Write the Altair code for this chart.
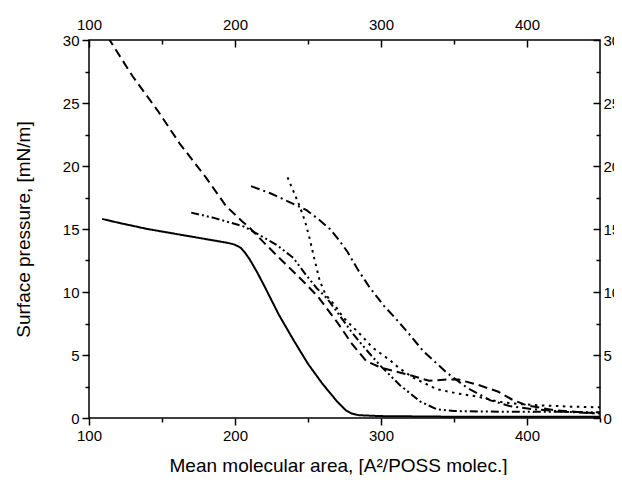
import altair as alt
import pandas as pd

# ---- data ----
solid_x = [109, 120, 140, 160, 180, 195, 200, 204, 207, 210, 215, 220, 230, 240, 250, 260, 270, 276, 280, 285, 300, 350, 400, 450]
solid_y = [15.8, 15.5, 15.0, 14.6, 14.2, 13.9, 13.75, 13.5, 13.1, 12.6, 11.6, 10.5, 8.2, 6.2, 4.3, 2.7, 1.3, 0.6, 0.35, 0.22, 0.15, 0.1, 0.1, 0.1]

dash_x = [113, 130, 147, 162, 180, 194, 205, 210, 220, 233, 248, 257, 270, 280, 290, 300, 310, 320, 333, 345, 353, 366, 380, 390, 400, 420, 450]
dash_y = [30.2, 27.1, 24.4, 21.8, 19.1, 16.8, 15.6, 15.1, 13.9, 12.4, 10.7, 9.6, 7.6, 5.9, 4.5, 4.0, 3.7, 3.4, 2.95, 3.05, 3.05, 2.65, 2.1, 1.45, 1.0, 0.6, 0.35]

dashdot_x = [211, 225, 238, 249, 258, 265, 270, 277, 284, 292, 302, 310, 319, 329, 345, 359, 375, 388, 404, 425, 450]
dashdot_y = [18.4, 17.8, 17.1, 16.5, 15.7, 15.0, 14.3, 13.2, 11.8, 10.4, 8.9, 7.9, 6.7, 5.3, 3.6, 2.4, 1.4, 0.95, 0.7, 0.5, 0.35]

dot_x = [236, 240, 244, 248, 251, 254, 258, 262, 268, 274, 280, 287, 294, 300, 306, 312, 322, 338, 352, 366, 380, 395, 410, 430, 450]
dot_y = [19.1, 18.0, 16.9, 15.6, 14.3, 12.8, 10.9, 9.8, 9.0, 8.0, 7.3, 6.5, 5.6, 5.1, 4.6, 4.0, 3.2, 2.3, 1.95, 1.7, 1.3, 1.1, 1.0, 0.9, 0.85]

dd_x = [170, 185, 197, 206, 217, 229, 240, 249, 256, 263, 270, 280, 290, 300, 313, 327, 338, 350, 380, 420, 450]
dd_y = [16.3, 15.9, 15.5, 15.2, 14.5, 13.7, 12.7, 11.3, 10.3, 9.5, 8.4, 6.8, 5.4, 4.1, 2.6, 1.3, 0.7, 0.55, 0.5, 0.5, 0.45]

series_names = ["solid", "dashed", "dashdot", "dotted", "dashdotdot"]
series_dash = [[1, 0], [9, 5], [9, 4, 2, 4], [2.5, 4.5], [8, 3, 2, 3, 2, 3]]

x_major = [100, 200, 300, 400]
x_minor = [150, 250, 350, 450]
y_major = [0, 5, 10, 15, 20, 25, 30]
y_minor = [2.5, 7.5, 12.5, 17.5, 22.5, 27.5]

x_title = "Mean molecular area, [A²/POSS molec.]"
y_title = "Surface pressure, [mN/m]"

frames = []
for name, xs, ys in zip(series_names, [solid_x, dash_x, dashdot_x, dot_x, dd_x],
                        [solid_y, dash_y, dashdot_y, dot_y, dd_y]):
    frames.append(pd.DataFrame({"area": xs, "pressure": ys, "series": name}))
df = pd.concat(frames, ignore_index=True)
anchor = pd.DataFrame({"area": [100], "pressure": [0]})

xs = alt.Scale(domain=[100, 450], nice=False, zero=False)
ys = alt.Scale(domain=[0, 30], nice=False, zero=False)


def X(axis):
    return alt.X("area:Q", scale=xs, axis=axis)


def Y(axis):
    return alt.Y("pressure:Q", scale=ys, axis=axis)


lines = alt.Chart(df).mark_line(strokeWidth=2, color="black", clip=True).encode(
    x=X(alt.Axis(orient="bottom", values=x_major, tickSize=7, labelPadding=3,
                 labelFlush=False, title=x_title, titlePadding=13, titleX=249)),
    y=Y(alt.Axis(orient="left", values=y_major, tickSize=7, labelPadding=3,
                 labelFlush=False, title=y_title, titlePadding=29)),
    strokeDash=alt.StrokeDash("series:N", scale=alt.Scale(domain=series_names, range=series_dash),
                              legend=None),
)

minor_bl = alt.Chart(anchor).mark_point(opacity=0).encode(
    x=X(alt.Axis(orient="bottom", values=x_minor, tickSize=4, labels=False, title=None)),
    y=Y(alt.Axis(orient="left", values=y_minor, tickSize=4, labels=False, title=None)),
)

major_tr = alt.Chart(anchor).mark_point(opacity=0).encode(
    x=X(alt.Axis(orient="top", values=x_major, tickSize=7, offset=-7, labelPadding=8,
                 labelFlush=False, title=None)),
    y=Y(alt.Axis(orient="right", values=y_major, tickSize=7, offset=-7, labelPadding=3,
                 labelFlush=False, title=None)),
)

minor_tr = alt.Chart(anchor).mark_point(opacity=0).encode(
    x=X(alt.Axis(orient="top", values=x_minor[:-1], tickSize=4, offset=-4, labels=False, title=None)),
    y=Y(alt.Axis(orient="right", values=y_minor, tickSize=4, offset=-4, labels=False, title=None)),
)

chart = alt.layer(lines, minor_bl, major_tr, minor_tr).resolve_axis(
    x="independent", y="independent"
).properties(
    width=511, height=378,
    autosize=alt.AutoSizeParams(type="none"),
    padding={"left": 81, "top": 32, "right": 14, "bottom": 57},
).configure_view(
    stroke="black", strokeWidth=1.5
).configure_axis(
    domain=False, grid=False,
    labelFont="Liberation Sans", titleFont="Liberation Sans",
    labelFontSize=15, titleFontSize=19, titleFontWeight="normal",
    labelColor="black", titleColor="black", tickColor="black", tickWidth=1.5,
)

chart.save("out.html", embed_options={"renderer": "svg", "actions": False})
